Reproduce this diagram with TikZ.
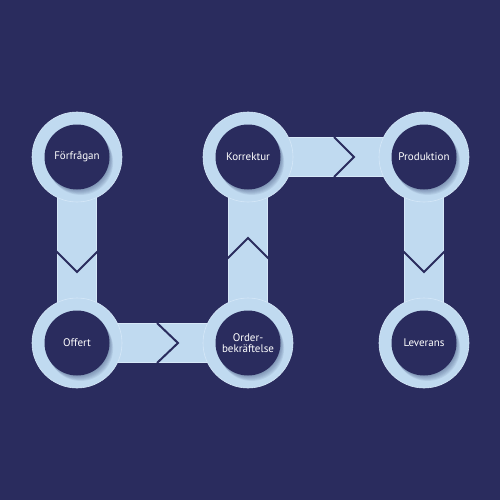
\documentclass[tikz,border=0pt]{standalone}
\usepackage{fontspec}
\setmainfont{PT Sans}
\usetikzlibrary{calc}
\definecolor{navy}{RGB}{42,44,94}
\definecolor{lightb}{RGB}{192,218,240}
\definecolor{edgeb}{RGB}{214,232,248}
\definecolor{shad}{RGB}{70,88,130}
\pgfdeclarelayer{back}
\pgfdeclarelayer{bg}
\pgfdeclarelayer{fg}
\pgfsetlayers{back,bg,main,fg}
\tikzset{
  ring/.style={circle, fill=lightb, draw=edgeb, line width=0.6pt, minimum size=90pt, inner sep=0pt},
  core/.style={circle, fill=navy, minimum size=65pt, inner sep=0pt, text=white, font=\fontsize{11}{12.5}\selectfont, align=center},
  bar/.style={draw=edgeb, line width=0.8pt, double=lightb, double distance=38pt},
  chev/.style={draw=navy, line width=2pt, line join=miter, line cap=butt},
}
\begin{document}
\begin{tikzpicture}[x=1pt,y=-1pt]
\begin{pgfonlayer}{back}
\fill[navy] (0,0) rectangle (500,500);
\end{pgfonlayer}
\useasboundingbox (0,0) rectangle (500,500);
% rings
\node[ring] (f) at (77,157) {};
\node[ring] (k) at (248,157) {};
\node[ring] (p) at (424,157) {};
\node[ring] (o) at (77,343) {};
\node[ring] (ob) at (248,343) {};
\node[ring] (l) at (424,343) {};
% bars
\begin{pgfonlayer}{bg}
\draw[bar] (f.center) -- (o.center);
\draw[bar] (o.center) -- (ob.center);
\draw[bar] (ob.center) -- (k.center);
\draw[bar] (k.center) -- (p.center);
\draw[bar] (p.center) -- (l.center);
\end{pgfonlayer}
% chevrons
\coordinate (c1a) at (56,251); \coordinate (c1b) at (77,272); \coordinate (c1c) at (98,251);
\coordinate (c2a) at (157,323); \coordinate (c2b) at (178,343); \coordinate (c2c) at (157,363);
\coordinate (c3a) at (227,259); \coordinate (c3b) at (248,238); \coordinate (c3c) at (269,259);
\coordinate (c4a) at (334,137); \coordinate (c4b) at (354,157); \coordinate (c4c) at (334,177);
\coordinate (c5a) at (403,251); \coordinate (c5b) at (424,272); \coordinate (c5c) at (445,251);
\foreach \n in {1,...,5}{
  \draw[chev] (c\n a) -- (c\n b) -- (c\n c);
}
% shadows and cores
\begin{pgfonlayer}{fg}
\foreach \c in {f,k,p,o,ob,l}{
  \foreach \i in {1,...,6}{
    \fill[shad, opacity=0.10] ($(\c.center)+(0.6*\i,0.9*\i)$) circle (32.5pt);
  }
}
\node[core] (tf) at (f.center) {Förfrågan};
\node[core] (tk) at (k.center) {Korrektur};
\node[core] (tp) at (p.center) {Produktion};
\node[core] (to) at (o.center) {Offert};
\node[core] (tob) at (ob.center) {Order-\\[-1pt]bekräftelse};
\node[core] (tl) at (l.center) {Leverans};
\end{pgfonlayer}
\end{tikzpicture}
\end{document}
